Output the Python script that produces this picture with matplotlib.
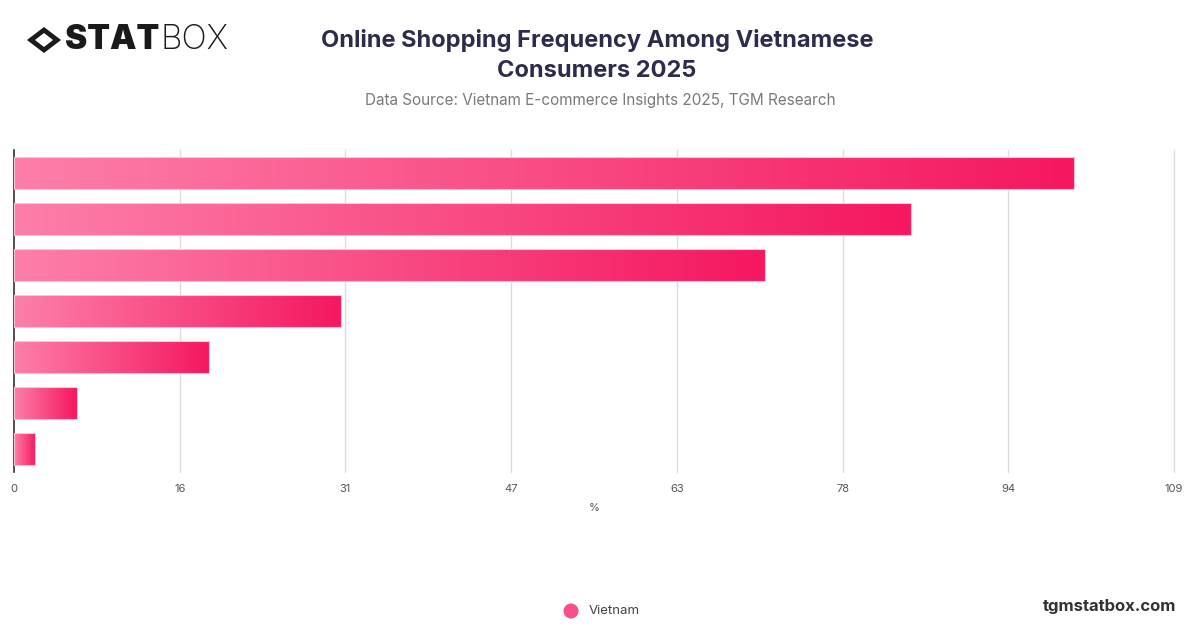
import numpy as np
import matplotlib
matplotlib.use('Agg')
import matplotlib.pyplot as plt
from matplotlib.colors import LinearSegmentedColormap
from matplotlib.patches import Polygon, Rectangle, Ellipse

# values (category labels are not shown in the chart)
values = [100.0, 84.6, 70.8, 30.8, 18.4, 5.9, 2.0]
series_name = 'Vietnam'
x_max = 109.4
tick_labels = ['0', '16', '31', '47', '63', '78', '94', '109']

title_lines = ['Online Shopping Frequency Among Vietnamese', 'Consumers 2025']
subtitle = 'Data Source: Vietnam E-commerce Insights 2025, TGM Research'

plt.rcParams['font.family'] = ['Inter', 'DejaVu Sans']

fig = plt.figure(figsize=(12, 6.28), dpi=100)
ax = fig.add_axes([14/1200, 1-472/628, 1160/1200, 322/628])

cmap = LinearSegmentedColormap.from_list('pinkgrad', ['#fd7fa9', '#f5175f'])
grad = np.linspace(0, 1, 256).reshape(1, -1)

n = len(values)
h = 0.68
for i, v in enumerate(values):
    yc = i
    ax.imshow(grad, cmap=cmap, aspect='auto', extent=[0, v, yc + h/2, yc - h/2],
              zorder=3, interpolation='bilinear')
    ax.add_patch(Rectangle((0, yc - h/2), v, h, fill=False, edgecolor='#ffc3d7',
                           linewidth=0.8, zorder=4))

ax.set_xlim(0, x_max)
ax.set_ylim(n - 0.5, -0.5)

ticks = np.linspace(0, x_max, len(tick_labels))
ax.set_xticks(ticks)
ax.set_xticklabels(tick_labels, fontsize=8, color='#555555')
ax.tick_params(axis='x', length=0, pad=9)
ax.set_yticks([])
for t in ticks[1:]:
    ax.axvline(t, color='#dcdcdc', linewidth=1, zorder=1, clip_on=False)

for s in ['top', 'right', 'bottom']:
    ax.spines[s].set_visible(False)
ax.spines['left'].set_color('#333333')
ax.spines['left'].set_linewidth(1.2)
ax.set_xlabel('%', fontsize=8, color='#555555', labelpad=6)

# titles
fig.text(597/1200, 1-40/628, title_lines[0], ha='center', va='center', fontsize=17,
         fontweight='bold', color='#2e2c4b')
fig.text(597/1200, 1-71/628, title_lines[1], ha='center', va='center', fontsize=17,
         fontweight='bold', color='#2e2c4b')
fig.text(600/1200, 1-101/628, subtitle, ha='center', va='center',
         fontsize=11, color='#7a7a7a')

# logo
cx, cy = 44/1200, 1-40/628
def px(dx, dy):
    return (cx + dx/1200, cy + dy/628)
fig.patches.append(Polygon([px(-17, 0), px(0, 13), px(17, 0), px(0, -13)],
                           closed=True, transform=fig.transFigure,
                           facecolor='#1a1a1a', edgecolor='none'))
fig.patches.append(Polygon([px(-9, 0), px(0, 7), px(9, 0), px(0, -7)],
                           closed=True, transform=fig.transFigure,
                           facecolor='white', edgecolor='none'))
stat = fig.text(65/1200, 1-40/628, 'STAT', ha='left', va='center', fontsize=24,
                fontweight='black', color='#1a1a1a')
fig.canvas.draw()
bb = stat.get_window_extent(fig.canvas.get_renderer())
fig.text(bb.x1/1200 + 1/1200, 1-40/628, 'BOX', ha='left', va='center', fontsize=24,
         fontweight='light', color='#1a1a1a')

# legend
fig.patches.append(Ellipse((571/1200, 1-611/628), 15/1200, 15/628,
                           transform=fig.transFigure,
                           facecolor='#f74f88', edgecolor='none'))
fig.text(589/1200, 1-611/628, series_name, ha='left', va='center',
         fontsize=9.5, color='#444444')
fig.text(1176/1200, 1-606/628, 'tgmstatbox.com', ha='right', va='center',
         fontsize=12, fontweight='bold', color='#333333')

fig.savefig('out.png', dpi=100)
